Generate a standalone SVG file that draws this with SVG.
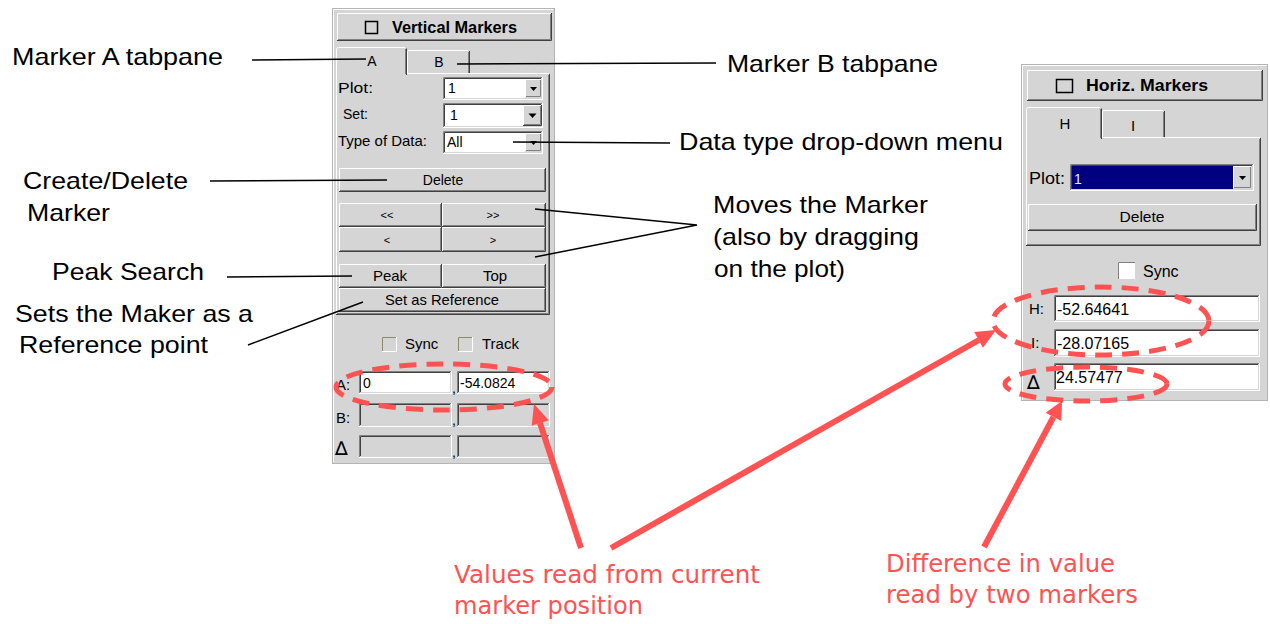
<svg xmlns="http://www.w3.org/2000/svg" width="1270" height="624" viewBox="0 0 1270 624">
<style>
.face{fill:#d5d5d5}
.white{fill:#fff}
.hi{fill:none;stroke:#fff;stroke-width:1}
.mid{fill:none;stroke:#808080;stroke-width:1}
.dk{fill:none;stroke:#404040;stroke-width:1}
.lt{fill:none;stroke:#d5d5d5;stroke-width:1}
.ui{font-family:"Liberation Sans",Arial,sans-serif;font-size:15px;fill:#000}
.uib{font-family:"Liberation Sans",Arial,sans-serif;font-size:16px;font-weight:bold;fill:#000}
.f14{font-size:14px}
.f16{font-size:16px}
.sm{font-size:11px}
.ctr{text-anchor:middle}
.delta{font-family:"DejaVu Sans",sans-serif;font-size:19px;fill:#000}
.note{font-family:"Liberation Sans",Arial,sans-serif;font-size:24px;fill:#000}
.red{font-family:"DejaVu Sans",Verdana,sans-serif;font-size:25px;fill:#ff5252}
.lead{fill:none;stroke:#000;stroke-width:1.5}
.hl{fill:none;stroke:#ff5252;stroke-width:5;stroke-dasharray:17 10}
.arr{fill:none;stroke:#ff5252;stroke-width:6}
.head{fill:#ff5252}
.tri{fill:#000}
</style>
<rect width="1270" height="624" fill="#fff"/>

<!-- Vertical markers panel -->
<g id="vertical-markers">
  <rect x="332.5" y="8.5" width="222" height="455" class="face" stroke="#b4b4b4"/>
  <path class="hi" d="M333.5 462 V9.5 H553"/>
  <!-- title toggle button -->
  <rect x="337" y="13" width="215" height="28" class="face"/>
  <path class="hi" d="M337.5 40 V13.5 H551"/>
  <path class="mid" d="M338 39.5 H550.5 V14"/>
  <path class="dk" d="M337 40.5 H551.5 V13"/>
  <rect x="365.5" y="21.5" width="12" height="12" fill="none" stroke="#000" stroke-width="1.5"/>
  <text class="uib" x="392" y="33" textLength="125" lengthAdjust="spacingAndGlyphs">Vertical Markers</text>
  <!-- tab B -->
  <path class="hi" d="M407.5 73 V52 Q407.5 50.5 409 50.5 H468"/>
  <path class="mid" d="M468.5 52 V73"/>
  <path class="dk" d="M469.5 51 V73"/>
  <!-- tab content frame -->
  <path class="hi" d="M336.5 314 V75 M407 73.5 H549"/>
  <path class="mid" d="M337 313.5 H548.5 V75"/>
  <path class="dk" d="M336 314.5 H549.5 V74"/>
  <!-- tab A (selected) -->
  <path class="hi" d="M336.5 75 V49.5 Q336.5 47.5 338.5 47.5 H405"/>
  <path class="mid" d="M405.5 49 V74"/>
  <path class="dk" d="M406.5 48.5 V75"/>
  <text class="ui f14 ctr" x="372" y="66">A</text>
  <text class="ui f14 ctr" x="439" y="67">B</text>

  <text class="ui" x="338" y="93" textLength="35" lengthAdjust="spacingAndGlyphs">Plot:</text>
  <text class="ui" x="343" y="119" textLength="25" lengthAdjust="spacingAndGlyphs">Set:</text>
  <text class="ui" x="338" y="146" textLength="89" lengthAdjust="spacingAndGlyphs">Type of Data:</text>

  <!-- Plot combo -->
  <rect x="443" y="77" width="100" height="23" class="white"/>
  <path class="mid" d="M443.5 99 V77.5 H542"/>
  <path class="dk" d="M444.5 98 V78.5 H541"/>
  <path class="hi" d="M443 99.5 H542.5 V77"/>
  <path class="lt" d="M444 98.5 H541.5 V78"/>
  <rect x="525" y="79" width="17" height="19" class="face"/>
  <path class="hi" d="M525.5 97 V79.5 H541"/>
  <path class="mid" d="M526 96.5 H540.5 V80"/>
  <path class="tri" d="M530 87 H537 L533.5 91 Z"/>
  <text class="ui f14" x="448" y="93">1</text>

  <!-- Set combo -->
  <rect x="443" y="103" width="100" height="25" class="white"/>
  <path class="mid" d="M443.5 127 V103.5 H542"/>
  <path class="dk" d="M444.5 126 V104.5 H541"/>
  <path class="hi" d="M443 127.5 H542.5 V103"/>
  <path class="lt" d="M444 126.5 H541.5 V104"/>
  <rect x="523" y="105" width="19" height="21" class="face"/>
  <path class="hi" d="M523.5 125 V105.5 H541"/>
  <path class="mid" d="M524 124.5 H540.5 V106"/>
  <path class="dk" d="M523 125.5 H541.5 V105"/>
  <path class="tri" d="M528.5 113.5 H536.5 L532.5 118 Z"/>
  <text class="ui f14" x="450" y="120">1</text>

  <!-- Type of Data combo -->
  <rect x="443" y="131" width="100" height="23" class="white"/>
  <path class="mid" d="M443.5 153 V131.5 H542"/>
  <path class="dk" d="M444.5 152 V132.5 H541"/>
  <path class="hi" d="M443 153.5 H542.5 V131"/>
  <path class="lt" d="M444 152.5 H541.5 V132"/>
  <rect x="525" y="133" width="17" height="19" class="face"/>
  <path class="hi" d="M525.5 151 V133.5 H541"/>
  <path class="mid" d="M526 150.5 H540.5 V134"/>
  <path class="tri" d="M530 141 H537 L533.5 145 Z"/>
  <text class="ui f14" x="447" y="147">All</text>

  <!-- Delete -->
  <rect x="339" y="168" width="207" height="24" class="face"/>
  <path class="hi" d="M339.5 191 V168.5 H545"/>
  <path class="mid" d="M340 190.5 H544.5 V169"/>
  <path class="dk" d="M339 191.5 H545.5 V168"/>
  <text class="ui f14 ctr" x="443" y="185">Delete</text>

  <!-- step buttons -->
  <rect x="339" y="203" width="103" height="24" class="face"/>
  <path class="hi" d="M339.5 226 V203.5 H441"/>
  <path class="mid" d="M340 225.5 H440.5 V204"/>
  <path class="dk" d="M339 226.5 H441.5 V203"/>
  <rect x="442" y="203" width="104" height="24" class="face"/>
  <path class="hi" d="M442.5 226 V203.5 H545"/>
  <path class="mid" d="M443 225.5 H544.5 V204"/>
  <path class="dk" d="M442 226.5 H545.5 V203"/>
  <rect x="339" y="227" width="103" height="25" class="face"/>
  <path class="hi" d="M339.5 251 V227.5 H441"/>
  <path class="mid" d="M340 250.5 H440.5 V228"/>
  <path class="dk" d="M339 251.5 H441.5 V227"/>
  <rect x="442" y="227" width="104" height="25" class="face"/>
  <path class="hi" d="M442.5 251 V227.5 H545"/>
  <path class="mid" d="M443 250.5 H544.5 V228"/>
  <path class="dk" d="M442 251.5 H545.5 V227"/>
  <text class="ui sm ctr" x="387" y="219">&lt;&lt;</text>
  <text class="ui sm ctr" x="493" y="219">&gt;&gt;</text>
  <text class="ui sm ctr" x="387" y="244">&lt;</text>
  <text class="ui sm ctr" x="493" y="244">&gt;</text>

  <!-- Peak / Top / Set as Reference -->
  <rect x="339" y="264" width="103" height="24" class="face"/>
  <path class="hi" d="M339.5 287 V264.5 H441"/>
  <path class="mid" d="M340 286.5 H440.5 V265"/>
  <path class="dk" d="M339 287.5 H441.5 V264"/>
  <rect x="442" y="264" width="104" height="24" class="face"/>
  <path class="hi" d="M442.5 287 V264.5 H545"/>
  <path class="mid" d="M443 286.5 H544.5 V265"/>
  <path class="dk" d="M442 287.5 H545.5 V264"/>
  <rect x="339" y="288" width="207" height="24" class="face"/>
  <path class="hi" d="M339.5 311 V288.5 H545"/>
  <path class="mid" d="M340 310.5 H544.5 V289"/>
  <path class="dk" d="M339 311.5 H545.5 V288"/>
  <text class="ui ctr" x="390" y="281">Peak</text>
  <text class="ui ctr" x="495" y="281">Top</text>
  <text class="ui ctr" x="442" y="305" textLength="114" lengthAdjust="spacingAndGlyphs">Set as Reference</text>

  <!-- Sync / Track -->
  <rect x="382" y="337" width="15" height="15" class="face"/>
  <path d="M382.5 351 V337.5 H396" fill="none" stroke="#8a8a6a"/>
  <path class="hi" d="M382 351.5 H396.5 V337"/>
  <text class="ui" x="405" y="349">Sync</text>
  <rect x="458" y="337" width="15" height="15" class="face"/>
  <path d="M458.5 351 V337.5 H472" fill="none" stroke="#8a8a6a"/>
  <path class="hi" d="M458 351.5 H472.5 V337"/>
  <text class="ui" x="482" y="349">Track</text>

  <!-- readout rows -->
  <text class="ui" x="336" y="390">A:</text>
  <rect x="359" y="371" width="93" height="23" class="white"/>
  <path class="mid" d="M359.5 393 V371.5 H451"/>
  <path class="dk" d="M360.5 392 V372.5 H450"/>
  <path class="lt" d="M360 392.5 H450.5 V372"/>
  <rect x="457" y="371" width="93" height="23" class="white"/>
  <path class="mid" d="M457.5 393 V371.5 H549"/>
  <path class="dk" d="M458.5 392 V372.5 H548"/>
  <path class="lt" d="M458 392.5 H548.5 V372"/>
  <text class="ui f14" x="363" y="388">0</text>
  <text class="ui f14" x="460" y="388">-54.0824</text>
  <text class="ui f14" x="452" y="393">,</text>

  <text class="ui" x="336" y="423">B:</text>
  <rect x="359" y="403" width="93" height="24" class="face"/>
  <path class="mid" d="M359.5 426 V403.5 H451"/>
  <path class="dk" d="M360.5 425 V404.5 H450"/>
  <path class="hi" d="M359 426.5 H451.5 V403"/>
  <rect x="457" y="403" width="93" height="24" class="face"/>
  <path class="mid" d="M457.5 426 V403.5 H549"/>
  <path class="dk" d="M458.5 425 V404.5 H548"/>
  <path class="hi" d="M457 426.5 H549.5 V403"/>
  <text class="ui f14" x="452" y="425">,</text>

  <text class="delta" x="335" y="455">∆</text>
  <rect x="359" y="435" width="93" height="23" class="face"/>
  <path class="mid" d="M359.5 457 V435.5 H451"/>
  <path class="dk" d="M360.5 456 V436.5 H450"/>
  <path class="hi" d="M359 457.5 H451.5 V435"/>
  <rect x="457" y="435" width="93" height="23" class="face"/>
  <path class="mid" d="M457.5 457 V435.5 H549"/>
  <path class="dk" d="M458.5 456 V436.5 H548"/>
  <path class="hi" d="M457 457.5 H549.5 V435"/>
  <text class="ui f14" x="452" y="457">,</text>
</g>

<!-- Horizontal markers panel -->
<g id="horiz-markers">
  <rect x="1021.5" y="64.5" width="246" height="336" class="face" stroke="#b4b4b4"/>
  <path class="hi" d="M1022.5 400 V65.5 H1267"/>
  <rect x="1027" y="70" width="236" height="31" class="face"/>
  <path class="hi" d="M1027.5 100 V70.5 H1262"/>
  <path class="mid" d="M1028 99.5 H1261.5 V71"/>
  <path class="dk" d="M1027 100.5 H1262.5 V70"/>
  <rect x="1056.5" y="79.5" width="16" height="13" fill="none" stroke="#000" stroke-width="1.5"/>
  <text class="uib" x="1086" y="91" textLength="122" lengthAdjust="spacingAndGlyphs">Horiz. Markers</text>
  <!-- tab I -->
  <path class="hi" d="M1102.5 137 V112 Q1102.5 110.5 1104 110.5 H1163"/>
  <path class="mid" d="M1163.5 112 V137"/>
  <path class="dk" d="M1164.5 111 V137"/>
  <!-- tab frame -->
  <path class="hi" d="M1026.5 245 V139 M1102 137.5 H1260"/>
  <path class="mid" d="M1027 244.5 H1259.5 V139"/>
  <path class="dk" d="M1026 245.5 H1260.5 V138"/>
  <!-- tab H (selected) -->
  <path class="hi" d="M1026.5 139 V109.5 Q1026.5 107.5 1028.5 107.5 H1100"/>
  <path class="mid" d="M1100.5 109 V138"/>
  <path class="dk" d="M1101.5 108.5 V139"/>
  <text class="ui ctr" x="1065" y="129">H</text>
  <text class="ui ctr" x="1133" y="131">I</text>

  <text class="ui f16" x="1029" y="184" textLength="36" lengthAdjust="spacingAndGlyphs">Plot:</text>
  <rect x="1070" y="164" width="184" height="27" class="white"/>
  <path class="mid" d="M1070.5 190 V164.5 H1253"/>
  <path class="dk" d="M1071.5 189 V165.5 H1252"/>
  <path class="lt" d="M1071 189.5 H1252.5 V165"/>
  <rect x="1072" y="166" width="161" height="23" fill="#000080"/>
  <rect x="1233" y="166" width="19" height="23" class="face"/>
  <path class="hi" d="M1233.5 188 V166.5 H1251"/>
  <path class="mid" d="M1234 187.5 H1250.5 V167"/>
  <path class="tri" d="M1239 176 H1246 L1242.5 180 Z"/>
  <text class="ui f14" x="1074" y="184" style="fill:#e8e8ff">1</text>

  <rect x="1028" y="204" width="229" height="27" class="face"/>
  <path class="hi" d="M1028.5 230 V204.5 H1256"/>
  <path class="mid" d="M1029 229.5 H1255.5 V205"/>
  <path class="dk" d="M1028 230.5 H1256.5 V204"/>
  <text class="ui ctr" x="1142" y="222" textLength="45" lengthAdjust="spacingAndGlyphs">Delete</text>

  <rect x="1118" y="262" width="18" height="18" class="white"/>
  <path class="mid" d="M1118.5 279 V262.5 H1135"/>
  <path class="lt" d="M1118 279.5 H1135.5 V262"/>
  <text class="ui f16" x="1143" y="277">Sync</text>

  <text class="ui" x="1029" y="314">H:</text>
  <rect x="1054" y="295" width="206" height="27" class="white"/>
  <path class="mid" d="M1054.5 321 V295.5 H1259"/>
  <path class="dk" d="M1055.5 320 V296.5 H1258"/>
  <path class="lt" d="M1055 320.5 H1258.5 V296"/>
  <text class="ui f16" x="1057" y="315">-52.64641</text>

  <text class="ui" x="1031" y="348">I:</text>
  <rect x="1054" y="329" width="206" height="28" class="white"/>
  <path class="mid" d="M1054.5 356 V329.5 H1259"/>
  <path class="dk" d="M1055.5 355 V330.5 H1258"/>
  <path class="lt" d="M1055 355.5 H1258.5 V330"/>
  <text class="ui f16" x="1057" y="349">-28.07165</text>

  <text class="delta" x="1027" y="389">∆</text>
  <rect x="1054" y="363" width="206" height="28" class="white"/>
  <path class="mid" d="M1054.5 390 V363.5 H1259"/>
  <path class="dk" d="M1055.5 389 V364.5 H1258"/>
  <path class="lt" d="M1055 389.5 H1258.5 V364"/>
  <text class="ui f16" x="1056" y="383">24.57477</text>
</g>

<!-- callout labels -->
<g id="label-marker-a"><text class="note" x="12" y="65" textLength="211" lengthAdjust="spacingAndGlyphs">Marker A tabpane</text></g>
<g id="label-marker-b"><text class="note" x="727" y="72" textLength="211" lengthAdjust="spacingAndGlyphs">Marker B tabpane</text></g>
<g id="label-data-type"><text class="note" x="679" y="150" textLength="324" lengthAdjust="spacingAndGlyphs">Data type drop-down menu</text></g>
<g id="label-moves">
  <text class="note" x="713" y="213" textLength="215" lengthAdjust="spacingAndGlyphs">Moves the Marker</text>
  <text class="note" x="713" y="245" textLength="206" lengthAdjust="spacingAndGlyphs">(also by dragging</text>
  <text class="note" x="714" y="277" textLength="131" lengthAdjust="spacingAndGlyphs">on the plot)</text>
</g>
<g id="label-create-delete">
  <text class="note" x="23" y="189" textLength="165" lengthAdjust="spacingAndGlyphs">Create/Delete</text>
  <text class="note" x="27" y="221" textLength="83" lengthAdjust="spacingAndGlyphs">Marker</text>
</g>
<g id="label-peak"><text class="note" x="52" y="280" textLength="152" lengthAdjust="spacingAndGlyphs">Peak Search</text></g>
<g id="label-reference">
  <text class="note" x="15" y="322" textLength="238" lengthAdjust="spacingAndGlyphs">Sets the Maker as a</text>
  <text class="note" x="19" y="353" textLength="189" lengthAdjust="spacingAndGlyphs">Reference point</text>
</g>
<g id="label-values">
  <text class="red" x="454" y="583" textLength="306" lengthAdjust="spacingAndGlyphs">Values read from current</text>
  <text class="red" x="454" y="614" textLength="189" lengthAdjust="spacingAndGlyphs">marker position</text>
</g>
<g id="label-difference">
  <text class="red" x="886" y="572" textLength="229" lengthAdjust="spacingAndGlyphs">Difference in value</text>
  <text class="red" x="886" y="603" textLength="252" lengthAdjust="spacingAndGlyphs">read by two markers</text>
</g>

<!-- connectors -->
<g id="connectors">
  <path class="lead" d="M252 60 L366 59"/>
  <path class="lead" d="M457 64 L716 63"/>
  <path class="lead" d="M513 142 L670 143"/>
  <path class="lead" d="M535 209 L697 225 L535 257"/>
  <path class="lead" d="M210 181 L387 180"/>
  <path class="lead" d="M227 277 L352 276"/>
  <path class="lead" d="M248 345 L363 302"/>

  <ellipse class="hl" cx="444" cy="387" rx="108" ry="23"/>
  <ellipse class="hl" cx="1101" cy="321" rx="108" ry="34"/>
  <ellipse class="hl" cx="1086" cy="384" rx="81" ry="17"/>

  <path class="arr" d="M581 548 L540 423"/>
  <polygon class="head" points="534,404 548.8,420.2 531.7,425.8"/>
  <path class="arr" d="M611 548 L979 340"/>
  <polygon class="head" points="996,330 983,347.7 974.2,332.1"/>
  <path class="arr" d="M984 547 L1053.5 417"/>
  <polygon class="head" points="1062,401 1061.4,421.1 1045.6,412.7"/>
</g>
</svg>
